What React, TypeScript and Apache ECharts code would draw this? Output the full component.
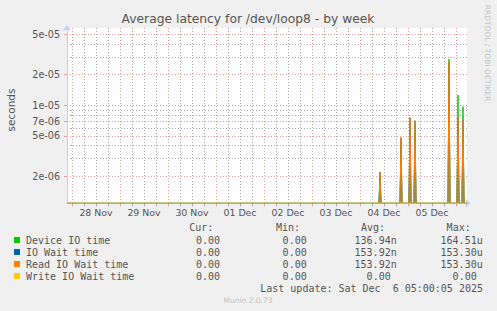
import React, { useEffect, useRef } from 'react';
import * as echarts from 'echarts';

const W = 497;
const H = 311;

// X axis (hours since 28 Nov 00:00)
const X_MIN = -2.5;
const X_MAX = 197.5;
const dayLabels = ['28 Nov', '29 Nov', '30 Nov', '01 Dec', '02 Dec', '03 Dec', '04 Dec', '05 Dec'];
const dayLabelHours = [12, 36, 60, 84, 108, 132, 156, 180];
const dayStartHours = [0, 24, 48, 72, 96, 120, 144, 168, 192];

// Y axis (log)
const Y_MIN = 1.085e-6;
const Y_MAX = 5.77e-5;
const yMajorTicks = [2e-6, 5e-6, 7e-6, 1e-5, 2e-5, 5e-5];
const yMajorLabels = ['2e-06', '5e-06', '7e-06', '1e-05', '2e-05', '5e-05'];
const yMinorTicks = [3e-6, 4e-6, 6e-6, 8e-6, 9e-6, 3e-5, 4e-5];

// Data: spikes (30-min samples), everything else 0
const spikeHours = [154, 164.5, 169, 171.5, 188.5, 193, 195.5];
const deviceIOTime = [2.0e-6, 4.3e-6, 6.8e-6, 6.3e-6, 2.86e-5, 1.26e-5, 9.7e-6];
const ioWaitTime = [2.21e-6, 4.8e-6, 7.55e-6, 7.05e-6, 2.67e-5, 7.55e-6, 7.16e-6];
const readIOWaitTime = [2.21e-6, 4.8e-6, 7.55e-6, 7.05e-6, 2.67e-5, 7.55e-6, 7.16e-6];
const writeIOWaitTime = [0, 0, 0, 0, 0, 0, 0];

// Legend
const seriesNames = ['Device IO time', 'IO Wait time', 'Read IO Wait time', 'Write IO Wait time'];
const seriesColors = ['#00cc00', '#0066b3', '#ff8000', '#ffcc00'];
const curValues = ['0.00', '0.00', '0.00', '0.00'];
const minValues = ['0.00', '0.00', '0.00', '0.00'];
const avgValues = ['136.94n', '153.92n', '153.92n', '0.00'];
const maxValues = ['164.51u', '153.30u', '153.30u', '0.00'];
const colHeaders = ['Cur:', 'Min:', 'Avg:', 'Max:'];
const lastUpdate = 'Last update: Sat Dec  6 05:00:05 2025';

const TEXT = '#555555';
const MONO = '"DejaVu Sans Mono", monospace';
const SANS = '"DejaVu Sans", sans-serif';
const lg = (v: number) => Math.log10(Math.max(v, Y_MIN));

function buildSeries(values: number[]) {
  const out: [number, number][] = [];
  for (let i = 0; X_MIN + i * 0.5 <= X_MAX; i++) {
    const h = X_MIN + i * 0.5;
    const idx = spikeHours.indexOf(h);
    out.push([h, lg(idx >= 0 ? values[idx] : 0)]);
  }
  return out;
}

export default function App() {
  const ref = useRef<HTMLDivElement>(null);
  useEffect(() => {
    if (!ref.current) return;
    const chart = echarts.init(ref.current, undefined, { renderer: 'svg', width: W, height: H });

    const minorX: number[] = [];
    for (let h = 6; h < X_MAX; h += 6) if (h % 24 !== 0) minorX.push(h);

    const majorColor = '#e69a9a';
    const minorColor = '#a8a8a8';
    const axisColor = '#c6cef4';

    const colRight = [226, 312.7, 396.7, 482.7];
    const headerRight = [213.3, 300, 385, 470.7];
    const rowY = [240, 252, 264, 276];
    const graphics: any[] = [
      { type: 'text', x: 248, y: 19, style: { text: 'Average latency for /dev/loop8 - by week', font: `12.3px ${SANS}`, fill: TEXT, align: 'center', verticalAlign: 'middle' } },
      { type: 'text', x: 11, y: 110, rotation: Math.PI / 2, style: { text: 'seconds', font: `10.5px ${SANS}`, fill: TEXT, align: 'center', verticalAlign: 'middle' } },
      { type: 'text', x: 487, y: 53, rotation: -Math.PI / 2, style: { text: 'RRDTOOL / TOBI OETIKER', font: `7.5px ${SANS}`, fill: '#c4c4c4', align: 'center', verticalAlign: 'middle' } },
      { type: 'text', x: 248, y: 300.5, style: { text: 'Munin 2.0.73', font: `7.5px ${SANS}`, fill: '#c4c4c4', align: 'center', verticalAlign: 'middle' } },
      { type: 'text', x: 483, y: 288, style: { text: lastUpdate, font: `10px ${MONO}`, fill: TEXT, align: 'right', verticalAlign: 'middle' } },
    ];
    colHeaders.forEach((t, i) => {
      graphics.push({ type: 'text', x: headerRight[i], y: 227, style: { text: t, font: `10px ${MONO}`, fill: TEXT, align: 'right', verticalAlign: 'middle' } });
    });
    const cols = [curValues, minValues, avgValues, maxValues];
    seriesNames.forEach((name, r) => {
      graphics.push({ type: 'rect', shape: { x: 14, y: rowY[r] - 3, width: 6, height: 6 }, style: { fill: seriesColors[r] } });
      graphics.push({ type: 'text', x: 26, y: rowY[r], style: { text: name, font: `10px ${MONO}`, fill: TEXT, align: 'left', verticalAlign: 'middle' } });
      cols.forEach((col, c) => {
        const v = col[r];
        const hasUnit = /[a-zA-Z]$/.test(v);
        graphics.push({ type: 'text', x: colRight[c] - (hasUnit ? 0 : 6), y: rowY[r], style: { text: v, font: `10px ${MONO}`, fill: TEXT, align: 'right', verticalAlign: 'middle' } });
      });
    });

    const dataSets = [deviceIOTime, ioWaitTime, readIOWaitTime, writeIOWaitTime];

    chart.setOption({
      animation: false,
      backgroundColor: '#f0f0f0',
      grid: { left: 67, top: 28, width: 400, height: 175.3, show: true, backgroundColor: '#ffffff', borderWidth: 0 },
      xAxis: [
        {
          type: 'value', min: X_MIN, max: X_MAX, position: 'bottom',
          axisLine: { show: false },
          axisTick: { show: true, length: 3, customValues: minorX, lineStyle: { color: minorColor } },
          axisLabel: { show: false },
          splitLine: { show: true, lineStyle: { color: minorColor, type: [1, 2] } },
        },
        {
          type: 'value', min: X_MIN, max: X_MAX, position: 'bottom',
          axisLine: { show: true, onZero: false, lineStyle: { color: axisColor }, symbol: ['none', 'arrow'], symbolSize: [7, 6], symbolOffset: [0, 4] },
          axisTick: { show: true, length: 3, customValues: dayStartHours, lineStyle: { color: majorColor } },
          axisLabel: {
            show: true, customValues: dayLabelHours, margin: 5, color: TEXT, fontSize: 9.4, fontFamily: SANS,
            formatter: (v: number) => dayLabels[dayLabelHours.indexOf(Math.round(v))] ?? '',
          },
          splitLine: { show: true, lineStyle: { color: majorColor, type: [1, 2] } },
        },
      ],
      yAxis: [
        {
          type: 'value', min: lg(Y_MIN), max: lg(Y_MAX), position: 'left',
          axisLine: { show: false },
          axisTick: { show: true, length: 2, customValues: yMinorTicks.map(lg), lineStyle: { color: minorColor } },
          axisLabel: { show: false },
          splitLine: { show: true, lineStyle: { color: minorColor, type: [1, 2] } },
        },
        {
          type: 'value', min: lg(Y_MIN), max: lg(Y_MAX), position: 'left',
          axisLine: { show: true, onZero: false, lineStyle: { color: axisColor }, symbol: ['none', 'arrow'], symbolSize: [7, 6], symbolOffset: [0, 3] },
          axisTick: { show: true, length: 3, customValues: yMajorTicks.map(lg), lineStyle: { color: majorColor } },
          axisLabel: {
            show: true, customValues: yMajorTicks.map(lg), margin: 7, color: TEXT, fontSize: 9.6, fontFamily: SANS,
            formatter: (v: number) => {
              let best = 0;
              yMajorTicks.forEach((t, i) => { if (Math.abs(lg(t) - v) < Math.abs(lg(yMajorTicks[best]) - v)) best = i; });
              return yMajorLabels[best];
            },
          },
          splitLine: { show: true, lineStyle: { color: majorColor, type: [1, 2] } },
        },
      ],
      series: dataSets.map((vals, i) => ({
        name: seriesNames[i],
        type: 'line',
        xAxisIndex: 1,
        yAxisIndex: 1,
        data: buildSeries(vals),
        showSymbol: false,
        symbol: 'none',
        lineStyle: { width: 1, color: seriesColors[i] },
        itemStyle: { color: seriesColors[i] },
        z: 3 + i,
      })),
      graphic: graphics,
    });
    return () => chart.dispose();
  }, []);
  return <div ref={ref} style={{ position: 'fixed', left: 0, top: 0, width: W, height: H }} />;
}
